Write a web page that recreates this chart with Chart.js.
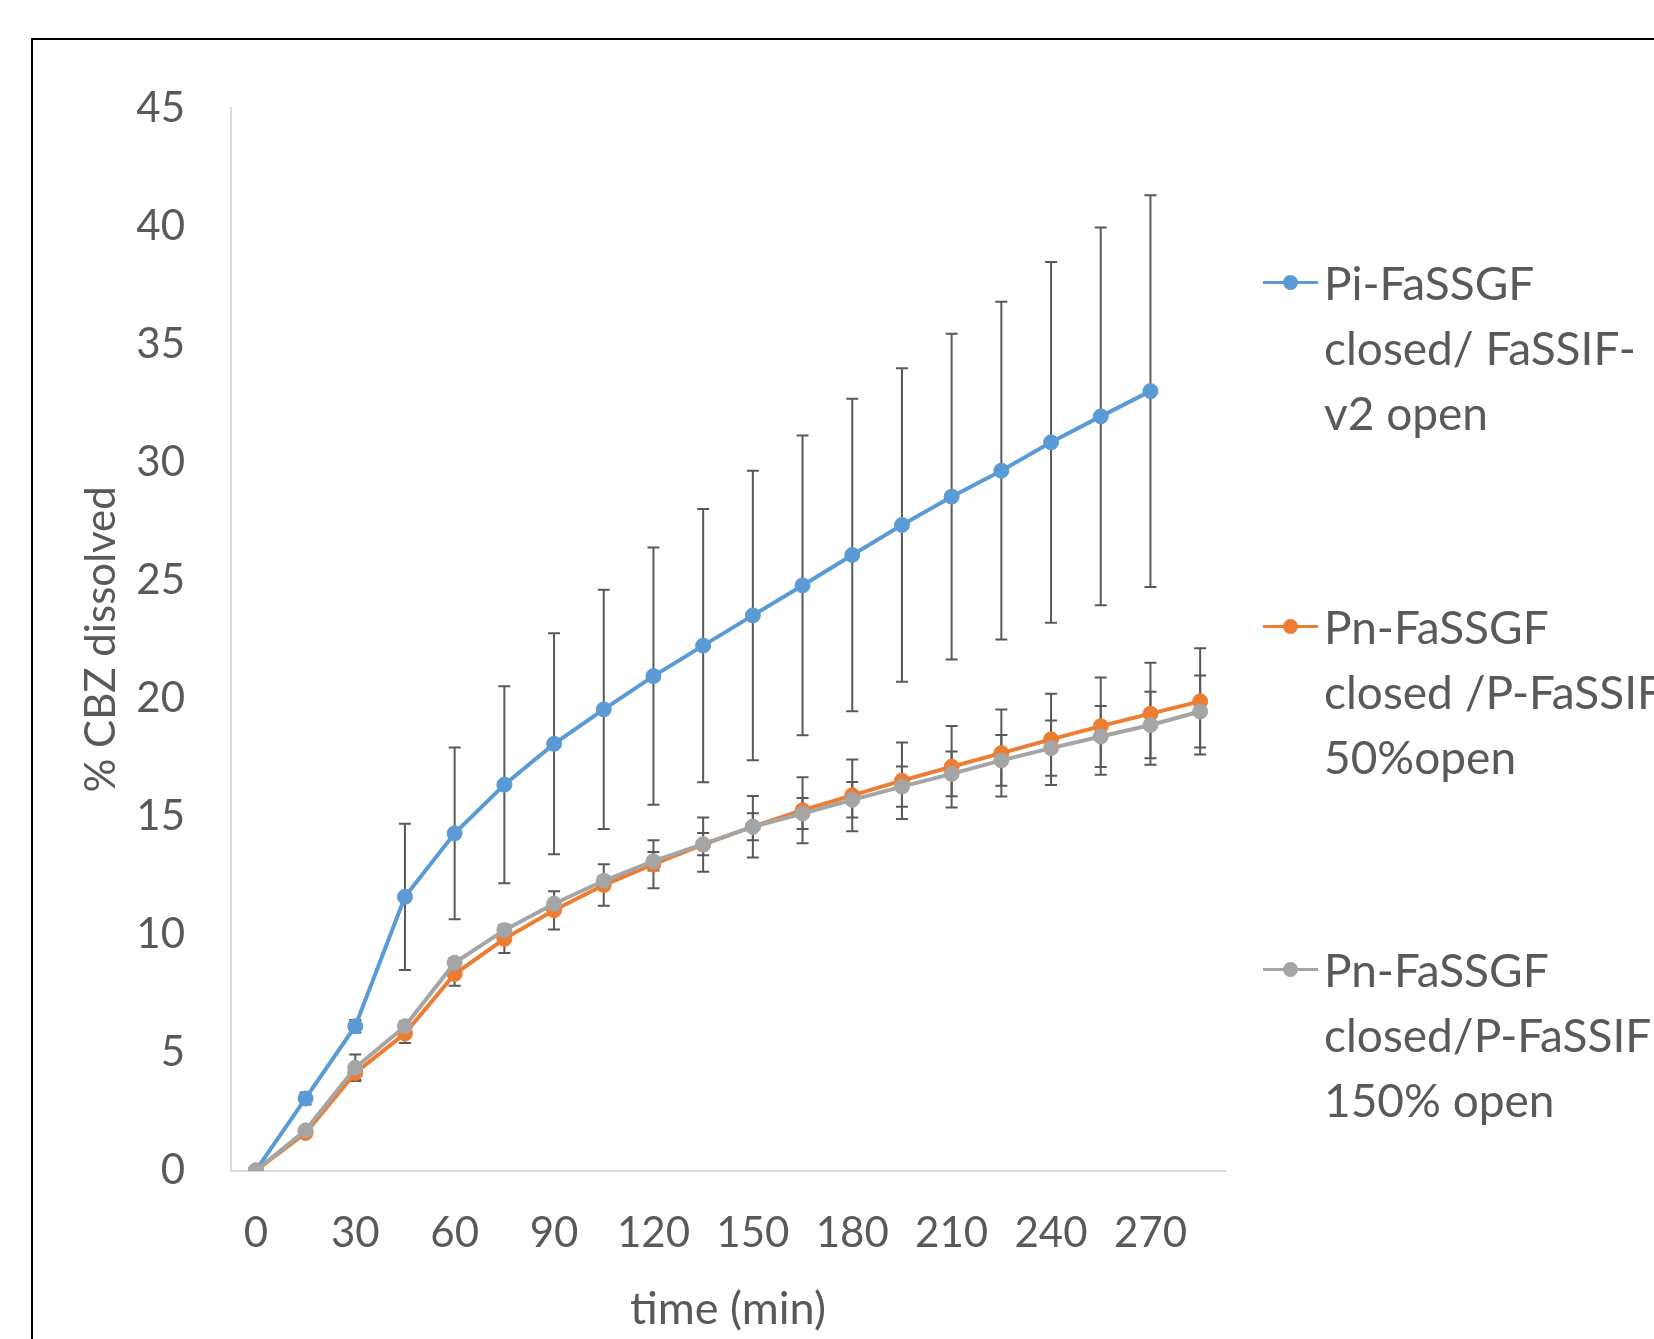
<!DOCTYPE html>
<html>
<head>
<meta charset="utf-8">
<script src="https://cdn.jsdelivr.net/npm/chart.js@4.4.1/dist/chart.umd.min.js"></script>
<style>
html, body { margin: 0; padding: 0; width: 1654px; height: 1339px; overflow: hidden; background: #fff; }
#frame { position: absolute; left: 31px; top: 38px; width: 2000px; height: 2000px; border: 2px solid #000; }
#chart { position: absolute; left: 0; top: 0; }
#legend { position: absolute; font-family: Lato, sans-serif; font-size: 46px; line-height: 65px; color: #595959; white-space: nowrap; }
.entry { position: absolute; left: 0; }
.key { position: absolute; left: 0; top: 31px; width: 55px; height: 3px; }
.key span { position: absolute; left: 20px; top: -6px; width: 15px; height: 15px; border-radius: 50%; }
.txt { position: absolute; left: 61px; top: 0; }
</style>
</head>
<body>
<div id="frame"></div>
<canvas id="chart" width="1654" height="1339"></canvas>
<div id="legend"></div>
<script>
// time points (min), only every other one gets a label
var timeLabels = ['0', '15', '30', '45', '60', '75', '90', '105', '120', '135',
                  '150', '165', '180', '195', '210', '225', '240', '255', '270', '285'];
var shownTicks = ['0', '30', '60', '90', '120', '150', '180', '210', '240', '270'];

var seriesNames = [
    ['Pi-FaSSGF', 'closed/ FaSSIF-', 'v2 open'],
    ['Pn-FaSSGF', 'closed /P-FaSSIF', '50%open'],
    ['Pn-FaSSGF', 'closed/P-FaSSIF', '150% open']
];
var seriesColors = ['#5B9BD5', '#ED7D31', '#A5A5A5'];

// % CBZ dissolved, mean and +/- error
var piMean = [0, 3.05, 6.11, 11.59, 14.28, 16.34, 18.07, 19.53, 20.94, 22.23,
              23.51, 24.78, 26.07, 27.34, 28.54, 29.64, 30.84, 31.94, 33.01];
var piErr = [0, 0.25, 0.26, 3.1, 3.64, 4.17, 4.68, 5.07, 5.45, 5.79,
             6.13, 6.35, 6.62, 6.64, 6.9, 7.15, 7.64, 8.0, 8.3];

var pn50Mean = [0, 1.59, 4.13, 5.80, 8.32, 9.81, 11.02, 12.09, 12.97, 13.80,
                14.56, 15.26, 15.89, 16.51, 17.1, 17.68, 18.26, 18.82, 19.35, 19.87];
var pn50Err = [0, 0.1, 0.3, 0.4, 0.49, 0.6, 0.81, 0.88, 1.02, 1.15,
               1.3, 1.4, 1.52, 1.62, 1.73, 1.84, 1.93, 2.06, 2.16, 2.25];

var pn150Mean = [0, 1.70, 4.35, 6.11, 8.80, 10.18, 11.30, 12.27, 13.10, 13.82,
                 14.56, 15.12, 15.70, 16.26, 16.8, 17.37, 17.89, 18.38, 18.87, 19.44];
var pn150Err = [0, 0.1, 0.56, 0.2, 0.2, 0.2, 0.15, 0.2, 0.39, 0.47,
                0.57, 0.66, 0.75, 0.85, 0.95, 1.07, 1.17, 1.29, 1.41, 1.52];

var textColor = '#595959';
var axisColor = '#D9D9D9';

// vertical error bars with caps, drawn under the lines
var errorBars = {
    id: 'errorBars',
    beforeDatasetsDraw: function(chart) {
	var ctx = chart.ctx;
	var yScale = chart.scales.y;
	ctx.save();
	ctx.strokeStyle = '#595959';
	ctx.lineWidth = 2;
	chart.data.datasets.forEach(function(ds, i) {
	    var meta = chart.getDatasetMeta(i);
	    meta.data.forEach(function(pt, j) {
		var v = ds.data[j], e = ds.errors[j];
		if (v == null || !e) return;
		var top = yScale.getPixelForValue(v + e);
		var bot = yScale.getPixelForValue(v - e);
		ctx.beginPath();
		ctx.moveTo(pt.x, top); ctx.lineTo(pt.x, bot);
		ctx.moveTo(pt.x - 6, top); ctx.lineTo(pt.x + 6, top);
		ctx.moveTo(pt.x - 6, bot); ctx.lineTo(pt.x + 6, bot);
		ctx.stroke();
	    });
	});
	ctx.restore();
    }
};

function makeSet(i, data, errors, order) {
    return {
	label: seriesNames[i].join(' '),
	data: data,
	errors: errors,
	order: order,
	borderColor: seriesColors[i],
	backgroundColor: seriesColors[i],
	borderWidth: 4,
	pointRadius: 7.5,
	pointBorderWidth: 1,
	pointBackgroundColor: seriesColors[i],
	pointBorderColor: seriesColors[i],
	tension: 0
    };
}

var chart = new Chart(document.getElementById('chart'), {
    type: 'line',
    data: {
	labels: timeLabels,
	datasets: [
	    makeSet(0, piMean, piErr, 3),
	    makeSet(1, pn50Mean, pn50Err, 2),
	    makeSet(2, pn150Mean, pn150Err, 1)
	]
    },
    plugins: [errorBars],
    options: {
	responsive: false,
	animation: false,
	devicePixelRatio: 1,
	layout: { padding: { left: 0, top: 108, right: 429, bottom: 0 } },
	plugins: { legend: { display: false }, tooltip: { enabled: false } },
	scales: {
	    x: {
		type: 'category',
		offset: true,
		grid: { display: false },
		border: { display: true, color: axisColor, width: 2 },
		ticks: {
		    autoSkip: false,
		    maxRotation: 0,
		    padding: 30,
		    color: textColor,
		    font: { family: 'Lato', size: 42 },
		    callback: function(val) {
			var l = this.getLabelForValue(val);
			return shownTicks.indexOf(l) >= 0 ? l : '';
		    }
		},
		title: {
		    display: true,
		    text: 'time (min)',
		    color: textColor,
		    font: { family: 'Lato', size: 45 },
		    padding: { top: 0, bottom: 3 }
		},
		afterFit: function(scale) { scale.height = 168.5; }
	    },
	    y: {
		min: 0,
		max: 45,
		grid: { display: false },
		border: { display: true, color: axisColor, width: 2 },
		ticks: {
		    stepSize: 5,
		    padding: 38,
		    color: textColor,
		    font: { family: 'Lato', size: 42 }
		},
		title: {
		    display: true,
		    text: '% CBZ dissolved',
		    color: textColor,
		    font: { family: 'Lato', size: 42 },
		    padding: { top: 76, bottom: 0 }
		},
		afterFit: function(scale) { scale.width = 231; }
	    }
	}
    }
});

// legend to the right of the plot, one block of text lines per series
var area = chart.chartArea;
var legend = document.getElementById('legend');
legend.style.left = (area.right + 38) + 'px';
legend.style.top = '250px';
seriesNames.forEach(function(lines, i) {
    var entry = document.createElement('div');
    entry.className = 'entry';
    entry.style.top = (i * 343.5) + 'px';
    var key = document.createElement('div');
    key.className = 'key';
    key.style.background = seriesColors[i];
    var dot = document.createElement('span');
    dot.style.background = seriesColors[i];
    key.appendChild(dot);
    var txt = document.createElement('div');
    txt.className = 'txt';
    txt.innerHTML = lines.join('<br>');
    entry.appendChild(key);
    entry.appendChild(txt);
    legend.appendChild(entry);
});
</script>
</body>
</html>
